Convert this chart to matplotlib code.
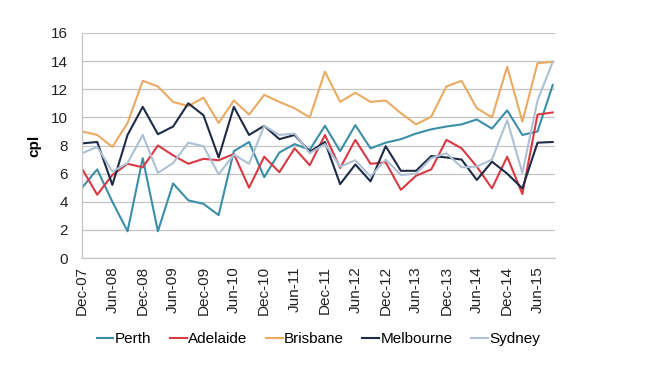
import matplotlib.pyplot as plt

plt.rcParams['font.family'] = ['Liberation Sans', 'DejaVu Sans']

# quarterly observations, Dec-07 .. Sep-15
quarters = ['Dec-07', 'Mar-08', 'Jun-08', 'Sep-08', 'Dec-08', 'Mar-09', 'Jun-09', 'Sep-09',
            'Dec-09', 'Mar-10', 'Jun-10', 'Sep-10', 'Dec-10', 'Mar-11', 'Jun-11', 'Sep-11',
            'Dec-11', 'Mar-12', 'Jun-12', 'Sep-12', 'Dec-12', 'Mar-13', 'Jun-13', 'Sep-13',
            'Dec-13', 'Mar-14', 'Jun-14', 'Sep-14', 'Dec-14', 'Mar-15', 'Jun-15', 'Sep-15']

perth = [5.0, 6.3, 4.0, 1.9, 7.1, 1.9, 5.3, 4.1, 3.85, 3.05, 7.6, 8.25, 5.75, 7.5, 8.1, 7.7,
         9.4, 7.6, 9.45, 7.8, 8.2, 8.45, 8.85, 9.15, 9.35, 9.5, 9.85, 9.2, 10.5, 8.75, 9.0, 12.3]
adelaide = [6.35, 4.5, 5.9, 6.7, 6.45, 8.0, 7.3, 6.7, 7.05, 6.95, 7.4, 5.0, 7.2, 6.1, 7.8, 6.6,
            8.75, 6.4, 8.4, 6.7, 6.8, 4.85, 5.85, 6.3, 8.4, 7.8, 6.5, 4.95, 7.2, 4.55, 10.2, 10.35]
brisbane = [9.0, 8.75, 7.9, 9.6, 12.6, 12.2, 11.1, 10.8, 11.4, 9.6, 11.2, 10.2, 11.6, 11.1, 10.65, 10.0,
            13.25, 11.1, 11.75, 11.1, 11.2, 10.3, 9.5, 10.05, 12.2, 12.6, 10.65, 10.0, 13.6, 9.7, 13.85, 13.95]
melbourne = [8.15, 8.25, 5.2, 8.75, 10.75, 8.8, 9.35, 11.0, 10.15, 7.15, 10.75, 8.75, 9.4, 8.45, 8.75, 7.55,
             8.25, 5.25, 6.65, 5.45, 7.95, 6.2, 6.2, 7.25, 7.15, 7.0, 5.55, 6.85, 6.0, 4.95, 8.2, 8.25]
sydney = [7.45, 7.9, 6.15, 6.75, 8.75, 6.05, 6.75, 8.2, 7.95, 5.95, 7.35, 6.7, 9.4, 8.75, 8.85, 7.45,
          8.1, 6.5, 6.95, 5.8, 7.0, 5.9, 6.0, 7.1, 7.45, 6.45, 6.5, 7.0, 9.8, 6.05, 11.2, 13.95]

series = [('Perth', perth, '#3a8fa6'),
          ('Adelaide', adelaide, '#d83a44'),
          ('Brisbane', brisbane, '#e9aa62'),
          ('Melbourne', melbourne, '#1e2b47'),
          ('Sydney', sydney, '#adc0d4')]

fig = plt.figure(figsize=(6.5, 3.66), dpi=100)
ax = fig.add_axes([82 / 650, 108 / 366, 473 / 650, 225 / 366])

x = range(len(quarters))
for name, vals, col in series:
    ax.plot(x, vals, color=col, lw=1.5, label=name)

ax.set_ylim(0, 16)
ax.set_yticks(range(0, 17, 2))
ax.set_xlim(0, len(quarters) - 0.85)
ax.set_xticks(range(0, len(quarters), 2))
ax.set_xticklabels(quarters[::2], rotation=90)
ax.tick_params(axis='both', length=0, labelsize=11, colors='#222222')
ax.tick_params(axis='y', pad=10)
ax.tick_params(axis='x', pad=6)

ax.grid(axis='y', color='#c4c4c4', lw=0.9)
ax.set_axisbelow(True)
for s in ['top', 'right']:
    ax.spines[s].set_visible(False)
for s in ['left', 'bottom']:
    ax.spines[s].set_color('#c4c4c4')
    ax.spines[s].set_linewidth(0.9)

ax.set_ylabel('cpl', fontsize=11, fontweight='bold', labelpad=7)

fig.legend(loc='center', bbox_to_anchor=(318.5 / 650, 1 - 339 / 366), ncol=5, frameon=False,
           fontsize=11, handlelength=1.1, handletextpad=0.1, columnspacing=1.2)

fig.savefig('out.png', dpi=100)
